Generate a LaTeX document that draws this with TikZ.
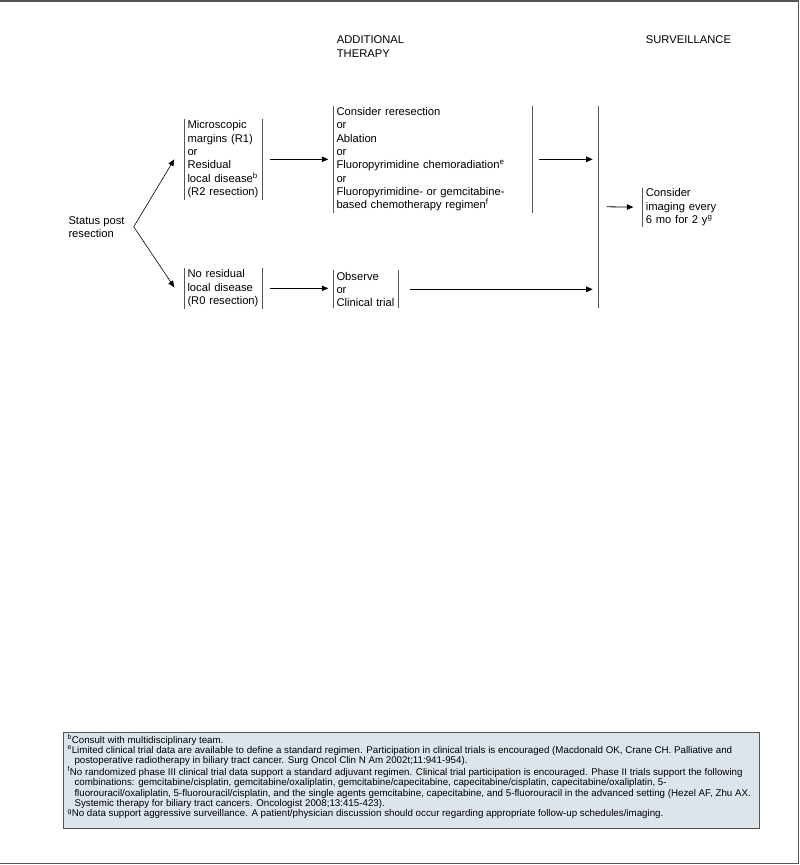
\documentclass[tikz,border=0pt]{standalone}
\usepackage{fontspec}
\setmainfont{Liberation Sans}
\newfontfamily\notefont{Liberation Sans}
\usepackage{tikz}
\usetikzlibrary{arrows.meta}
\usetikzlibrary{positioning}
\usetikzlibrary{calc}
\definecolor{lineGray}{RGB}{85,85,85}
\definecolor{noteFill}{RGB}{221,229,236}
\tikzstyle{flow->} = [line width = 0.8pt, -{Triangle[length = 6.5pt, width = 5.5pt]}]

\begin{document}
\begin{tikzpicture}[x = 1pt, y = -1pt, font = \fontsize{11.2}{13.3}\selectfont]
		% Переменные
		\pgfmathsetmacro{\xStage}{184.3}
		\pgfmathsetmacro{\xTher}{333.3}
		\pgfmathsetmacro{\xMerge}{598.3}
		\pgfmathsetmacro{\xSurv}{642.7}
		\pgfmathsetmacro{\yTop}{159.3}
		\pgfmathsetmacro{\yLow}{289.3}
		% Стили
		\tikzstyle{stage} = [anchor = west, align = left, inner xsep = 3pt, inner ysep = 0pt]
		\tikzstyle{bar} = [line width = 0.8pt, draw = lineGray]
		\tikzstyle{note} = [anchor = north west, align = left, inner sep = 0pt, font = \notefont\fontsize{9.75}{10.3}\selectfont]
		% Поле
		\useasboundingbox (0, 0) rectangle (800, 865);
		\draw[line width = 1.5pt, draw = lineGray] (0, 0.75) -- (798.5, 0.75) -- (798.5, 863.5) -- (0, 863.5);
		% Заголовки
		\node[anchor = west, align = left, inner sep = 0pt] (hTher) at (336.7, 46.7) {ADDITIONAL\\THERAPY};
		\node[anchor = west, inner sep = 0pt] (hSurv) at (645.7, 40) {SURVEILLANCE};
		% Узлы
		\node[stage, inner xsep = 4pt] (status) at (64.3, 226.8) {Status post\\resection};
		\node[stage, text width = 72pt, minimum height = 80pt] (r1) at (\xStage, \yTop) {Microscopic\\margins (R1)\\or\\Residual\\local disease\textsuperscript{b}\\(R2 resection)};
		\node[stage, text width = 72pt, minimum height = 40pt] (r0) at (\xStage, 288.3) {No residual\\local disease\\(R0 resection)};
		\node[stage, text width = 193pt, minimum height = 106.3pt] (ther) at (\xTher, \yTop) {Consider reresection\\or\\Ablation\\or\\Fluoropyrimidine chemoradiation\textsuperscript{e}\\or\\Fluoropyrimidine- or gemcitabine-\\based chemotherapy regimen\textsuperscript{f}};
		\node[stage, text width = 58.4pt, minimum height = 37.6pt] (obs) at (\xTher, \yLow) {Observe\\or\\Clinical trial};
		\node[stage, text width = 76pt, minimum height = 39pt] (surv) at (\xSurv, 207.2) {Consider\\imaging every\\6 mo for 2 y\textsuperscript{g}};
		\node[inner sep = 0pt, minimum height = 201.3pt, minimum width = 0pt] (merge) at (\xMerge, 206.7) {};
		\coordinate (fork) at ([xshift = 5pt]status.east);
		% Скобки
		\draw[bar] (r1.north west) -- (r1.south west);
		\draw[bar] (r1.north east) -- (r1.south east);
		\draw[bar] (r0.north west) -- (r0.south west);
		\draw[bar] (r0.north east) -- (r0.south east);
		\draw[bar] (ther.north west) -- (ther.south west);
		\draw[bar] (ther.north east) -- (ther.south east);
		\draw[bar] (obs.north west) -- (obs.south west);
		\draw[bar] (obs.north east) -- (obs.south east);
		\draw[bar] (surv.north west) -- (surv.south west);
		\draw[bar] (merge.north) -- (merge.south);
		% Стрелки
		\draw[flow->, line width = 0.6pt] (fork) -- ([xshift = -10pt]r1.west);
		\draw[flow->, line width = 0.6pt] (fork) -- ([xshift = -10pt, yshift = 1pt]r0.west);
		\draw[flow->, shorten <= 7.7pt, shorten >= 5pt] (r1.east) -- (ther.west);
		\draw[flow->, shorten <= 7.7pt, shorten >= 5pt] (r0.east) -- (r0.east -| obs.west);
		\draw[flow->, shorten <= 6pt, shorten >= 5.6pt] (ther.east) -- (ther.east -| merge);
		\draw[flow->, shorten <= 12.3pt, shorten >= 5.6pt] (obs.east) -- (obs.east -| merge);
		\draw[flow->, shorten <= 8.4pt, shorten >= 9.4pt] (merge.east) -- (surv.west);
		% Сноски
		\draw[line width = 1pt, draw = lineGray, fill = noteFill] (63.3, 732.3) rectangle (759.3, 828.5);
		\node[note] (notes) at (67.3, 734.5) {\textsuperscript{b}Consult with multidisciplinary team.\\
			\textsuperscript{e}Limited clinical trial data are available to define a standard regimen. Participation in clinical trials is encouraged (Macdonald OK, Crane CH. Palliative and\\
			\hspace*{7pt}postoperative radiotherapy in biliary tract cancer. Surg Oncol Clin N Am 2002t;11:941-954).\\
			\textsuperscript{f}No randomized phase III clinical trial data support a standard adjuvant regimen. Clinical trial participation is encouraged. Phase II trials support the following\\
			\hspace*{7pt}combinations: gemcitabine/cisplatin, gemcitabine/oxaliplatin, gemcitabine/capecitabine, capecitabine/cisplatin, capecitabine/oxaliplatin, 5-\\
			\hspace*{7pt}fluorouracil/oxaliplatin, 5-fluorouracil/cisplatin, and the single agents gemcitabine, capecitabine, and 5-fluorouracil in the advanced setting (Hezel AF, Zhu AX.\\
			\hspace*{7pt}Systemic therapy for biliary tract cancers. Oncologist 2008;13:415-423).\\
			\textsuperscript{g}No data support aggressive surveillance. A patient/physician discussion should occur regarding appropriate follow-up schedules/imaging.};
	\end{tikzpicture}
\end{document}
